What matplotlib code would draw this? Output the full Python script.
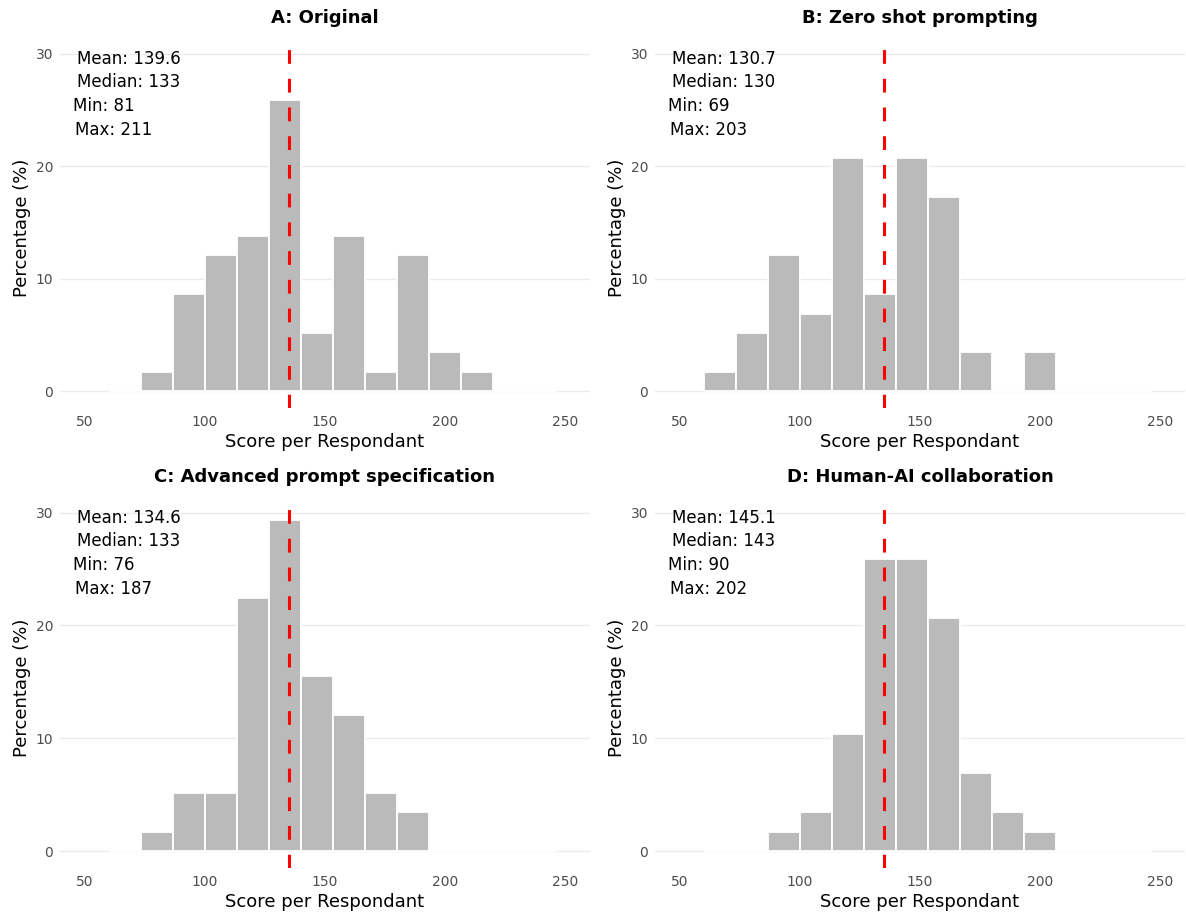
import numpy as np
import matplotlib
matplotlib.use("Agg")
import matplotlib.pyplot as plt

# ---- data ----
# histogram bins (left edges), 14 bins of width 13.33
BIN_LEFT = [60.0, 73.33, 86.67, 100.0, 113.33, 126.67, 140.0,
            153.33, 166.67, 180.0, 193.33, 206.67, 220.0, 233.33]
BIN_WIDTH = 13.33

titles = ["A: Original", "B: Zero shot prompting",
          "C: Advanced prompt specification", "D: Human-AI collaboration"]

pct_a = [0, 1.72, 8.62, 12.07, 13.79, 25.86, 5.17, 13.79, 1.72, 12.07, 3.45, 1.72, 0, 0]
pct_b = [1.72, 5.17, 12.07, 6.90, 20.69, 8.62, 20.69, 17.24, 3.45, 0, 3.45, 0, 0, 0]
pct_c = [0, 1.72, 5.17, 5.17, 22.41, 29.31, 15.52, 12.07, 5.17, 3.45, 0, 0, 0, 0]
pct_d = [0, 0, 1.72, 3.45, 10.34, 25.86, 25.86, 20.69, 6.90, 3.45, 1.72, 0, 0, 0]

mean_vals = [139.6, 130.7, 134.6, 145.1]
median_vals = [133, 130, 133, 143]
min_vals = [81, 69, 76, 90]
max_vals = [211, 203, 187, 202]

REF_LINE = 135  # red dashed reference

# ---- figure ----
W, H = 1186, 915
fig = plt.figure(figsize=(W / 100, H / 100), dpi=100)
plt.rcParams['font.family'] = 'DejaVu Sans'

# axes boxes in pixels: (left, top, right, bottom)
boxes = [(60, 48, 590, 408), (655, 48, 1185, 408),
         (60, 507, 590, 868), (655, 507, 1185, 868)]

series = [pct_a, pct_b, pct_c, pct_d]

for i, (l, t, r, b) in enumerate(boxes):
    ax = fig.add_axes([l / W, (H - b) / H, (r - l) / W, (b - t) / H])
    ax.set_axisbelow(True)

    ax.bar(BIN_LEFT, series[i], width=BIN_WIDTH, align='edge',
           color='#BABABA', edgecolor='white', linewidth=1.3, zorder=2)
    ax.axvline(REF_LINE, color='#FF0000', linewidth=2.2,
               dashes=(4.5, 4.9), zorder=3)

    # stats text
    lines = [(46.8, 29.1, f"Mean: {mean_vals[i]}"),
             (46.8, 27.0, f"Median: {median_vals[i]}"),
             (45.1, 24.9, f"Min: {min_vals[i]}"),
             (45.7, 22.8, f"Max: {max_vals[i]}")]
    for x, y, s in lines:
        ax.text(x, y, s, ha='left', va='baseline', fontsize=12,
                color='black', zorder=4)

    ax.set_xlim(39.6, 260.4)
    ax.set_ylim(-1.5, 30.5)
    ax.set_xticks([50, 100, 150, 200, 250])
    ax.set_yticks([0, 10, 20, 30])
    ax.grid(axis='y', color='#EBEBEB', linewidth=1.0)
    ax.grid(axis='x', visible=False)
    ax.tick_params(length=0, labelsize=10, labelcolor='#4D4D4D', pad=5)
    for sp in ax.spines.values():
        sp.set_visible(False)

    ax.set_xlabel("Score per Respondant", fontsize=13, labelpad=3)
    ax.set_ylabel("Percentage (%)", fontsize=13, labelpad=3)
    ax.set_title(titles[i], fontsize=13, fontweight='bold', pad=18)

fig.savefig("out.png", dpi=100)
